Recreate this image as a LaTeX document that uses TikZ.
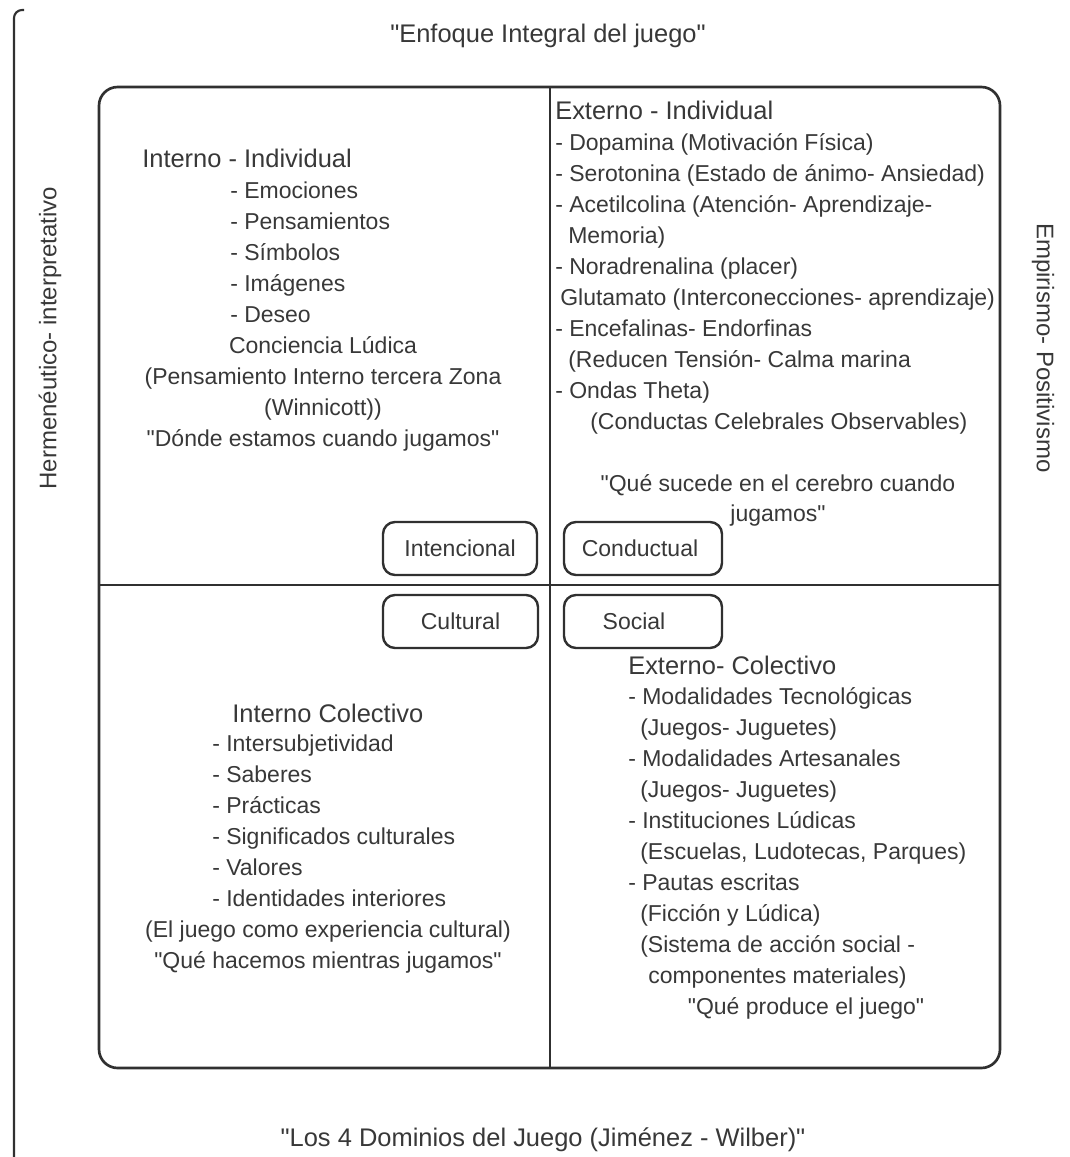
\documentclass[tikz,border=0pt]{standalone}
\usepackage{fontspec}
\setmainfont{Liberation Sans}
\definecolor{ink}{HTML}{383838}
\definecolor{edge}{HTML}{303030}
\newcommand{\qt}{\textquotedbl}
\begin{document}
\begin{tikzpicture}[x=0.75pt,y=-0.75pt,
  body/.style={font=\fontsize{17.25}{21}\selectfont, text=ink, inner sep=0pt},
  head/.style={font=\fontsize{19.1}{23}\selectfont, text=ink, inner sep=0pt},
  side/.style={font=\fontsize{18}{22}\selectfont, text=ink, inner sep=0pt},
  tagbox/.style={draw=edge, line width=1.8pt, rounded corners=9pt, fill=white,
    font=\fontsize{17.25}{21}\selectfont, text=ink, minimum height=39.75pt, inner sep=0pt},
  frameline/.style={draw=edge, line width=2pt},
  divline/.style={draw=edge, line width=1.6pt}
]
\useasboundingbox (0,0) rectangle (1070,1157);

% page edge line
\draw[edge, line width=1.6pt, rounded corners=6pt] (14,1160) -- (14,10) -- (24,10);

% frame and dividers
\draw[divline] (550,87) -- (550,1068);
\draw[divline] (99,585) -- (1000,585);
\draw[frameline, rounded corners=14pt] (99,87) rectangle (1000,1068);

% titles
\node[head, anchor=base] (title) at (548,42) {\qt Enfoque Integral del juego\qt};
\node[head, anchor=base] (bottom) at (543,1146) {\qt Los 4 Dominios del Juego (Jiménez - Wilber)\qt};
\node[side, rotate=90] (lefttxt) at (50,338) {Hermenéutico- interpretativo};
\node[side, rotate=-90] (righttxt) at (1043,348) {Empirismo- Positivismo};

% top-left quadrant
\node[head, anchor=base west] (tlh) at (142,167) {Interno - Individual};
\node[body, anchor=base west] (tl1) at (230,198) {- Emociones};
\node[body, anchor=base west] (tl2) at (230,229) {- Pensamientos};
\node[body, anchor=base west] (tl3) at (230,260) {- Símbolos};
\node[body, anchor=base west] (tl4) at (230,291) {- Imágenes};
\node[body, anchor=base west] (tl5) at (230,322) {- Deseo};
\node[body, anchor=base] (tl6) at (323,353) {Conciencia Lúdica};
\node[body, anchor=base] (tl7) at (323,384) {(Pensamiento Interno tercera Zona};
\node[body, anchor=base] (tl8) at (323,415) {(Winnicott))};
\node[body, anchor=base] (tl9) at (323,446) {\qt Dónde estamos cuando jugamos\qt};

% top-right quadrant
\node[head, anchor=base west] (trh) at (555,119) {Externo - Individual};
\node[body, anchor=base west] (tr1) at (555,150) {- Dopamina (Motivación Física)};
\node[body, anchor=base west] (tr2) at (555,181) {- Serotonina (Estado de ánimo- Ansiedad)};
\node[body, anchor=base west] (tr3) at (555,212) {- Acetilcolina (Atención- Aprendizaje-};
\node[body, anchor=base west] (tr4) at (568,243) {Memoria)};
\node[body, anchor=base west] (tr5) at (555,274) {- Noradrenalina (placer)};
\node[body, anchor=base west] (tr6) at (560,305) {Glutamato (Interconecciones- aprendizaje)};
\node[body, anchor=base west] (tr7) at (555,336) {- Encefalinas- Endorfinas};
\node[body, anchor=base west] (tr8) at (568,367) {(Reducen Tensión- Calma marina};
\node[body, anchor=base west] (tr9) at (555,398) {- Ondas Theta)};
\node[body, anchor=base west] (tr10) at (590,429) {(Conductas Celebrales Observables)};
\node[body, anchor=base] (tr11) at (778,491) {\qt Qué sucede en el cerebro cuando};
\node[body, anchor=base] (tr12) at (778,521) {jugamos\qt};

% bottom-left quadrant
\node[head, anchor=base west] (blh) at (232,722) {Interno Colectivo};
\node[body, anchor=base west] (bl1) at (212,751) {- Intersubjetividad};
\node[body, anchor=base west] (bl2) at (212,782) {- Saberes};
\node[body, anchor=base west] (bl3) at (212,813) {- Prácticas};
\node[body, anchor=base west] (bl4) at (212,844) {- Significados culturales};
\node[body, anchor=base west] (bl5) at (212,875) {- Valores};
\node[body, anchor=base west] (bl6) at (212,906) {- Identidades interiores};
\node[body, anchor=base] (bl7) at (328,937) {(El juego como experiencia cultural)};
\node[body, anchor=base] (bl8) at (328,968) {\qt Qué hacemos mientras jugamos\qt};

% bottom-right quadrant
\node[head, anchor=base west] (brh) at (628,674) {Externo- Colectivo};
\node[body, anchor=base west] (br1) at (628,704) {- Modalidades Tecnológicas};
\node[body, anchor=base west] (br2) at (640,735) {(Juegos- Juguetes)};
\node[body, anchor=base west] (br3) at (628,766) {- Modalidades Artesanales};
\node[body, anchor=base west] (br4) at (640,797) {(Juegos- Juguetes)};
\node[body, anchor=base west] (br5) at (628,828) {- Instituciones Lúdicas};
\node[body, anchor=base west] (br6) at (640,859) {(Escuelas, Ludotecas, Parques)};
\node[body, anchor=base west] (br7) at (628,890) {- Pautas escritas};
\node[body, anchor=base west] (br8) at (640,921) {(Ficción y Lúdica)};
\node[body, anchor=base west] (br9) at (640,952) {(Sistema de acción social -};
\node[body, anchor=base west] (br10) at (648,983) {componentes materiales)};
\node[body, anchor=base] (br11) at (806,1014) {\qt Qué produce el juego\qt};

% tag boxes
\node[tagbox, minimum width=115.5pt] (intencional) at (460,548.5) {Intencional};
\node[tagbox, minimum width=118.5pt] (conductual) at (643,548.5) {Conductual\kern4.5pt\relax};
\node[tagbox, minimum width=116.25pt] (cultural) at (460.5,621.5) {Cultural};
\node[tagbox, minimum width=118.5pt] (social) at (643,621.5) {Social\kern13.5pt\relax};
\end{tikzpicture}
\end{document}
